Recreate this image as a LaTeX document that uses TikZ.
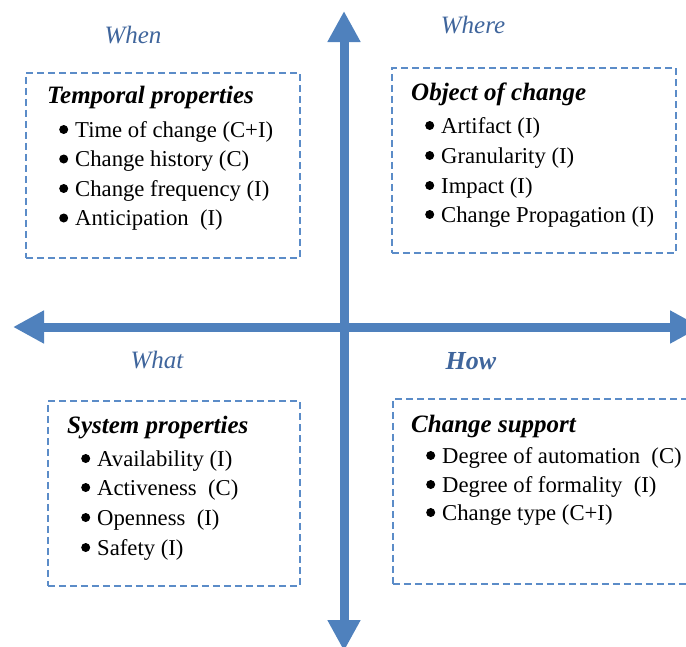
\documentclass[tikz,border=0pt]{standalone}
\usepackage{fontspec}
\setmainfont{Liberation Serif}
\usetikzlibrary{arrows.meta}
\definecolor{axisblue}{HTML}{4F81BD}
\definecolor{headblue}{HTML}{3F659C}
\definecolor{boxblue}{HTML}{5B8CC8}
\newcommand{\bdot}{\tikz[baseline=0pt]\fill[black] (0pt,7.5pt) circle[radius=4.5pt];}
\newcommand{\bitem}{\llap{\bdot\hspace{7pt}}}
\begin{document}
\begin{tikzpicture}[x=1pt,y=-1pt,
  axis/.style={line width=9pt, draw=axisblue,
    {Triangle[width=31pt,length=31pt]}-{Triangle[width=31pt,length=31pt]}},
  dbox/.style={draw=boxblue, line width=1.6pt, dash pattern=on 7pt off 4pt,
    rectangle, inner sep=0pt, anchor=north west},
  itemtext/.style={anchor=base west, inner sep=0pt, font=\fontsize{22.7}{27}\selectfont},
  titletext/.style={anchor=base west, inner sep=0pt, font=\fontsize{25}{30}\selectfont\bfseries\itshape},
  headtext/.style={anchor=base, inner sep=0pt, text=headblue, font=\fontsize{25}{30}\selectfont\itshape}
]
\useasboundingbox (0,0) rectangle (686,646);

% axes
\coordinate (vt) at (344,11);
\coordinate (vb) at (344,651);
\coordinate (hl) at (13,327);
\coordinate (hr) at (701,327);
\draw[axis] (vb) -- (vt);
\draw[axis] (hl) -- (hr);

% headers
\node[headtext] (when) at (133,43) {When};
\node[headtext] (where) at (473,33) {Where};
\node[headtext] (what) at (157,368) {What};
\node[headtext, font=\fontsize{26}{30}\selectfont\bfseries\itshape] (how) at (471,369) {How};

% boxes
\node[dbox, minimum width=274pt, minimum height=185pt] (box1) at (25,72) {};
\node[dbox, minimum width=284pt, minimum height=185pt] (box2) at (391,67) {};
\node[dbox, minimum width=252pt, minimum height=185pt] (box3) at (47,400) {};
\node[dbox, minimum width=308pt, minimum height=185pt] (box4) at (392,398) {};

% box 1
\node[titletext] (t1) at (47,103) {Temporal properties};
\node[itemtext] (t1a) at (75,137) {\bitem Time of change (C+I)};
\node[itemtext] (t1b) at (75,166.5) {\bitem Change history (C)};
\node[itemtext] (t1c) at (75,196) {\bitem Change frequency (I)};
\node[itemtext] (t1d) at (75,225.5) {\bitem Anticipation\ \ (I)};

% box 2
\node[titletext] (t2) at (411,100) {Object of change};
\node[itemtext] (t2a) at (441,133) {\bitem Artifact (I)};
\node[itemtext] (t2b) at (441,163) {\bitem Granularity (I)};
\node[itemtext] (t2c) at (441,193) {\bitem Impact (I)};
\node[itemtext] (t2d) at (441,222) {\bitem Change Propagation (I)};

% box 3
\node[titletext] (t3) at (67,433) {System properties};
\node[itemtext] (t3a) at (97,466) {\bitem Availability (I)};
\node[itemtext] (t3b) at (97,495) {\bitem Activeness\ \ (C)};
\node[itemtext] (t3c) at (97,525) {\bitem Openness\ \ (I)};
\node[itemtext] (t3d) at (97,555) {\bitem Safety (I)};

% box 4
\node[titletext] (t4) at (411,432) {Change support};
\node[itemtext] (t4a) at (442,463) {\bitem Degree of automation\ \ (C)};
\node[itemtext] (t4b) at (442,492) {\bitem Degree of formality\ \ (I)};
\node[itemtext] (t4c) at (442,520) {\bitem Change type (C+I)};
\end{tikzpicture}
\end{document}
